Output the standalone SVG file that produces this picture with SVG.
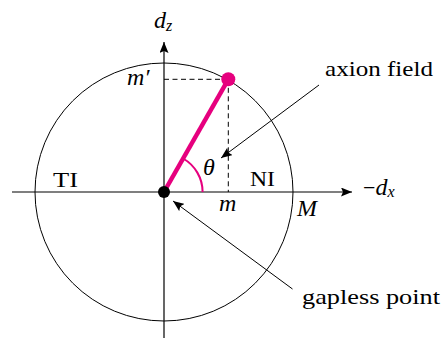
<svg xmlns="http://www.w3.org/2000/svg" width="443" height="339" viewBox="0 0 443 339">
<defs>
<style>
.ax{stroke:#000;stroke-width:1.2;fill:none}
.thin{stroke:#000;stroke-width:1;fill:none}
.dash{stroke:#000;stroke-width:1;stroke-dasharray:5 3.5;fill:none}
.t{font-family:"Liberation Serif","Times New Roman",serif;font-size:22px;fill:#000}
.i{font-style:italic;font-size:24px}
.sub{font-size:16px}
.pink{stroke:#e6007e;fill:none}
</style>
<marker id="ah" markerUnits="userSpaceOnUse" markerWidth="12" markerHeight="9" refX="11" refY="4.5" orient="auto" viewBox="0 0 12 9">
<path d="M0,0 L11,4.5 L0,9 L2,4.5 Z" fill="#000"/>
</marker>
</defs>
<g id="circle"><circle cx="164" cy="192" r="129" class="thin"/></g>
<g id="connectors">
<line x1="12" y1="192" x2="352" y2="192" class="ax" marker-end="url(#ah)"/>
<line x1="164" y1="338" x2="164" y2="42" class="ax" marker-end="url(#ah)"/>
<line x1="164" y1="79.3" x2="228.3" y2="79.3" class="dash"/>
<line x1="228.3" y1="79.3" x2="228.3" y2="192" class="dash"/>
<line x1="319" y1="85" x2="221" y2="158" class="thin" marker-end="url(#ah)"/>
<line x1="292.5" y1="289" x2="173" y2="201" class="thin" marker-end="url(#ah)"/>
</g>
<g id="field">
<line x1="164" y1="192" x2="228.3" y2="79.3" class="pink" stroke-width="4.5"/>
<path d="M202.6,192 A38.6,38.6 0 0 0 183.1,158.5" class="pink" stroke-width="2"/>
<circle cx="228.3" cy="79.3" r="7" fill="#e6007e"/>
</g>
<g id="gapless"><circle cx="164" cy="192" r="6" fill="#000"/></g>
<g id="labels">
<text class="t i" x="154" y="28">d<tspan class="sub" dy="3">z</tspan></text>
<text class="t" x="363" y="195">−<tspan class="i">d</tspan><tspan class="i sub" dy="2">x</tspan></text>
<text class="t i" x="127" y="85">m′</text>
<text class="t i" x="203" y="175">θ</text>
<text class="t" x="250" y="186" textLength="25" lengthAdjust="spacingAndGlyphs">NI</text>
<text class="t" x="53" y="187" textLength="25" lengthAdjust="spacingAndGlyphs">TI</text>
<text class="t i" x="219" y="211">m</text>
<text class="t i" x="297" y="216">M</text>
<text class="t" x="325" y="76" textLength="108" lengthAdjust="spacingAndGlyphs">axion field</text>
<text class="t" x="302" y="304" textLength="138" lengthAdjust="spacingAndGlyphs">gapless point</text>
</g>
</svg>
